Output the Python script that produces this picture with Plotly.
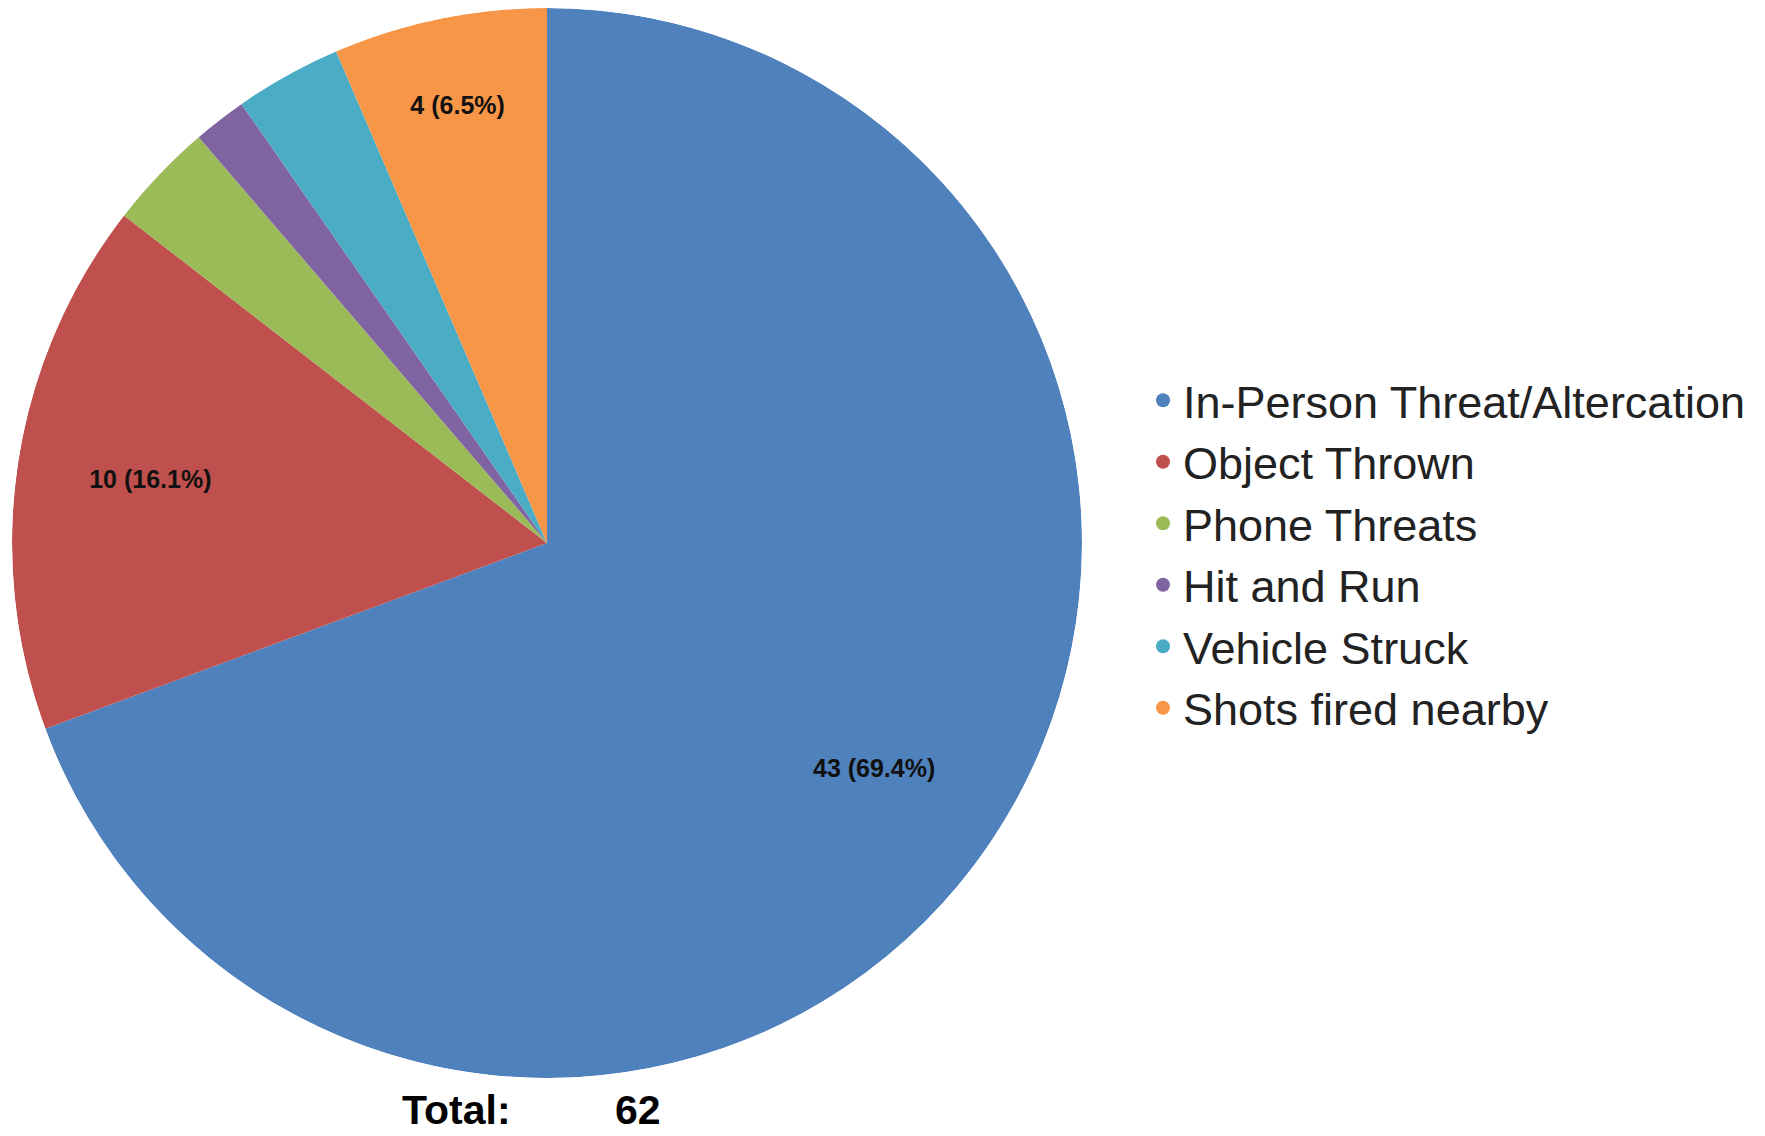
import plotly.graph_objects as go

# incident categories and counts
categories = ['In-Person Threat/Altercation', 'Object Thrown', 'Phone Threats',
              'Hit and Run', 'Vehicle Struck', 'Shots fired nearby']
counts = [43, 10, 2, 1, 2, 4]
colors = ['#4F81BD', '#C0504D', '#9BBB59', '#8064A2', '#4BACC6', '#F79646']
labelled = ['In-Person Threat/Altercation', 'Object Thrown', 'Shots fired nearby']
# radial placement of the data labels (fraction of the radius)
label_r = {'In-Person Threat/Altercation': 0.745, 'Object Thrown': 0.75,
           'Shots fired nearby': 0.83}

# the page body adds an 8px margin, so lay out on a slightly smaller canvas
W, H = 1757, 1128
FONT = 'Liberation Sans, Arial'

total = sum(counts)

# wedge angles (degrees, clockwise from 12 o'clock)
mids, widths = [], []
cum = 0
for n in counts:
    widths.append(n / total * 360.0)
    mids.append((cum + n / 2.0) / total * 360.0)
    cum += n

lab_text, lab_theta, lab_r = [], [], []
for cat, n, mid in zip(categories, counts, mids):
    if cat in labelled:
        lab_text.append('<b>{} ({:.1f}%)</b>'.format(n, 100.0 * n / total))
        lab_theta.append(mid)
        lab_r.append(label_r[cat])

pie_domain = dict(x=[4 / W, 1074 / W], y=[1 - 1070 / H, 1.0])

fig = go.Figure()

# pie wedges drawn as polar bars so the labels can sit above them
fig.add_trace(go.Barpolar(
    r=[1] * len(counts), theta=mids, width=widths,
    marker=dict(color=colors, line=dict(width=0)),
    showlegend=False, hoverinfo='skip',
))

fig.add_trace(go.Scatterpolar(
    r=lab_r, theta=lab_theta, text=lab_text, mode='text',
    textfont=dict(family=FONT, size=25, color='#111111'),
    showlegend=False, hoverinfo='skip',
))

# legend entries with round markers
for cat, col in zip(categories, colors):
    fig.add_trace(go.Scatter(
        x=[None], y=[None], mode='markers', name=cat,
        marker=dict(color=col, size=14, symbol='circle'),
    ))

fig.add_annotation(text='<b>Total:</b>', x=392 / W, y=1 - 1102 / H,
                   xref='paper', yref='paper', xanchor='left', yanchor='middle',
                   showarrow=False,
                   font=dict(family=FONT, size=41, color='black'))
fig.add_annotation(text='<b>{}</b>'.format(total), x=605 / W, y=1 - 1102 / H,
                   xref='paper', yref='paper', xanchor='left', yanchor='middle',
                   showarrow=False,
                   font=dict(family=FONT, size=41, color='black'))

fig.update_layout(
    width=W,
    height=H,
    margin=dict(l=0, r=0, t=0, b=0),
    paper_bgcolor='white',
    plot_bgcolor='white',
    xaxis=dict(visible=False),
    yaxis=dict(visible=False),
    polar=dict(
        domain=pie_domain,
        bgcolor='rgba(0,0,0,0)',
        bargap=0,
        radialaxis=dict(range=[0, 1], visible=False),
        angularaxis=dict(rotation=90, direction='clockwise', visible=False),
    ),
    legend=dict(
        x=1135 / W, y=1 - 546 / H, xanchor='left', yanchor='middle',
        font=dict(family=FONT, size=45, color='#222222'),
        bgcolor='rgba(0,0,0,0)',
    ),
)

fig.write_html("out.html")
